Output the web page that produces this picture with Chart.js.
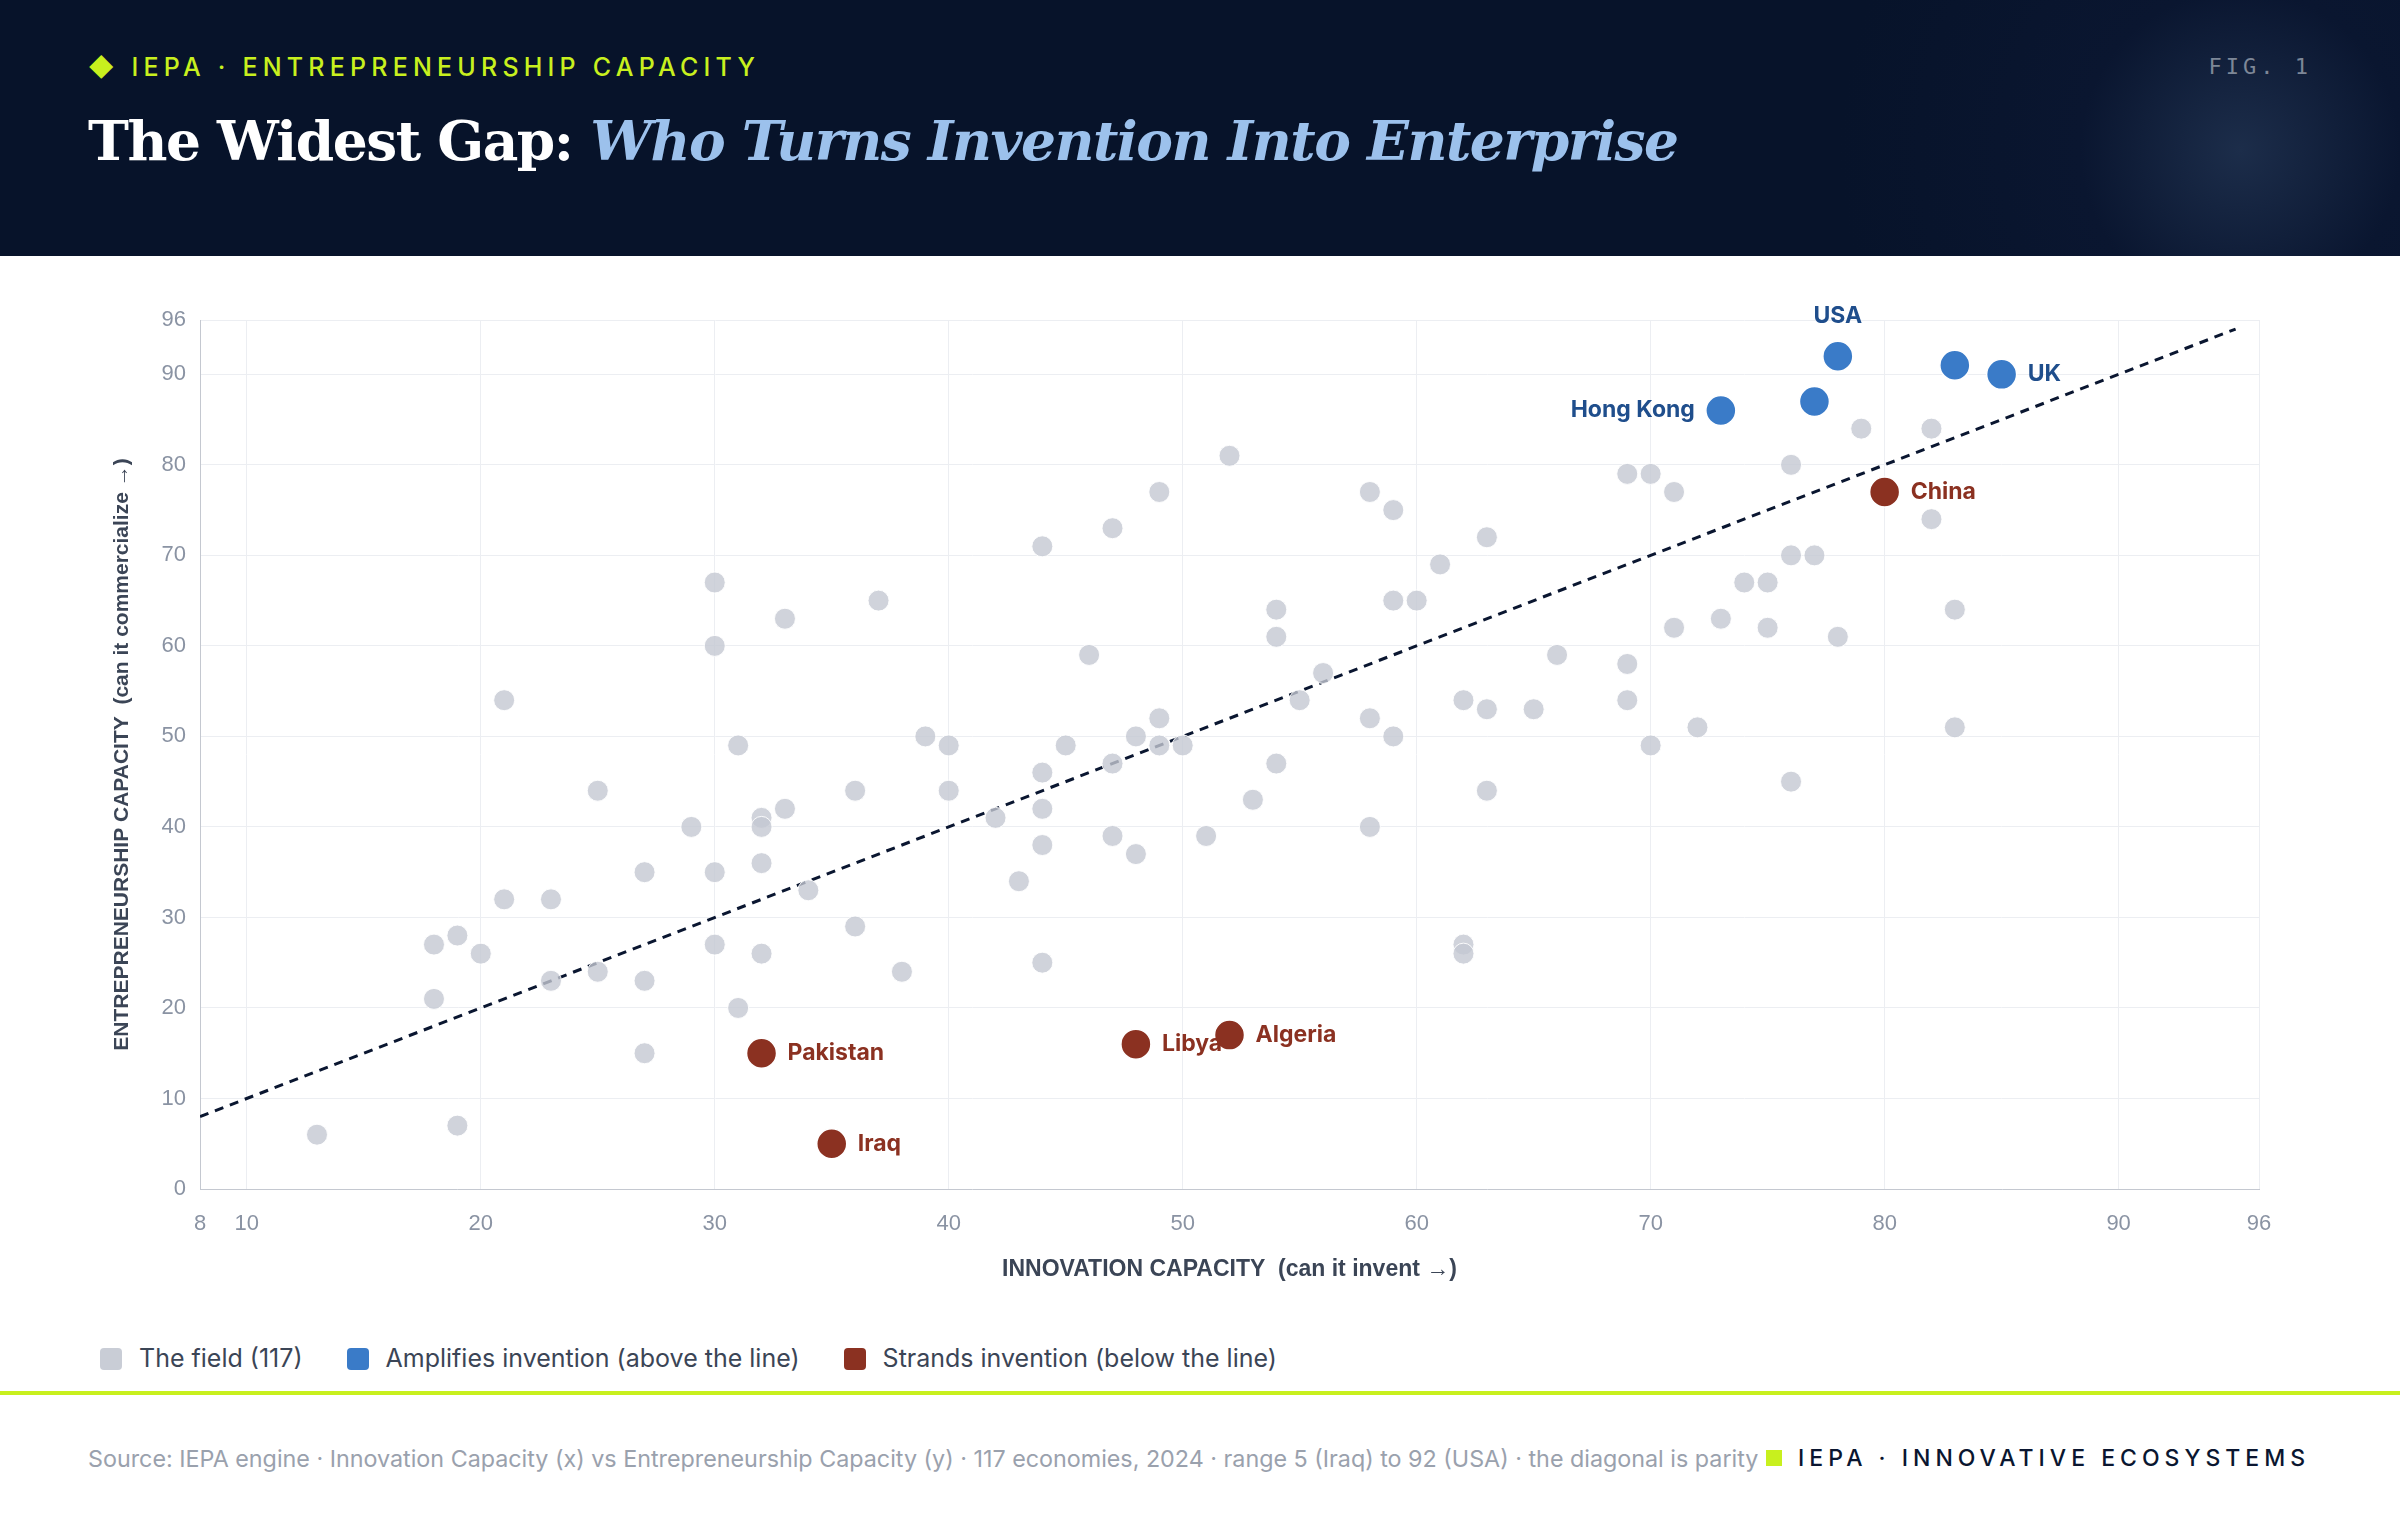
<!DOCTYPE html>
<html><head><meta charset="utf-8">
<script src="https://cdn.jsdelivr.net/npm/chart.js@4"></script>
<style>
  body{margin:0;width:2400px;height:1520px;background:#fff;font-family:Inter,"Noto Sans",sans-serif;overflow:hidden;position:relative}
  .head{position:absolute;left:0;top:0;width:2400px;height:256px;background:radial-gradient(circle at 2240px 150px,#1c2d4a 0,#0a1630 160px,#07132a 400px)}
  .kicker{position:absolute;left:88px;top:52px;color:#c8f01e;font-size:25px;letter-spacing:5.2px;font-weight:500}
  .fig{position:absolute;right:88px;top:54px;color:#7d8797;font-family:"DejaVu Sans Mono",monospace;font-size:22px;letter-spacing:4px}
  h1{position:absolute;left:88px;top:108px;margin:0;font-family:"DejaVu Serif",serif;font-size:55px;color:#fff;font-weight:bold;letter-spacing:-1.5px}
  h1 i{color:#9cc1ec;font-weight:bold}
  canvas{position:absolute;left:0;top:256px}
  .legend{position:absolute;left:100px;top:1343px;font-size:25px;color:#3b4556;display:flex;gap:44px}
  .legend span.sw{display:inline-block;width:22px;height:22px;border-radius:4px;margin-right:17px;vertical-align:-3px}
  .rule{position:absolute;left:0;top:1391px;width:2400px;height:4px;background:#c8f01e}
  .src{position:absolute;left:88px;top:1444px;font-size:23.3px;color:#9aa1ad}
  .brand{position:absolute;right:90px;top:1444px;font-size:23px;color:#0a1630;letter-spacing:5px;font-weight:500}
  .brand b{display:inline-block;width:16px;height:16px;background:#c8f01e;margin-right:16px}
</style></head>
<body>
<div class="head">
  <div class="kicker">◆ IEPA · ENTREPRENEURSHIP CAPACITY</div>
  <div class="fig">FIG. 1</div>
  <h1>The Widest Gap: <i>Who Turns Invention Into Enterprise</i></h1>
</div>
<canvas id="c" width="2400" height="1060" style="width:2400px;height:1060px"></canvas>
<div class="legend">
  <div><span class="sw" style="background:#c9cdd6"></span>The field (117)</div>
  <div><span class="sw" style="background:#3a7bc8"></span>Amplifies invention (above the line)</div>
  <div><span class="sw" style="background:#8b3121"></span>Strands invention (below the line)</div>
</div>
<div class="rule"></div>
<div class="src">Source: IEPA engine · Innovation Capacity (x) vs Entrepreneurship Capacity (y) · 117 economies, 2024 · range 5 (Iraq) to 92 (USA) · the diagonal is parity</div>
<div class="brand"><b></b>IEPA · INNOVATIVE ECOSYSTEMS</div>
<script>
// field economies: [innovation, entrepreneurship]
const fieldX = [13,19,18,19,20,18,21,21,23,23,25,25,27,27,27,29,30,30,30,30,31,31,32,32,32,32,33,33,34,36,36,37,38,39,40,40,42,43,44,44,44,44,44,45,46,47,47,47,48,48,49,49,49,50,51,52,53,54,54,54,55,56,58,58,58,59,59,59,60,61,62,62,62,63,63,63,65,66,69,69,69,70,70,71,71,72,73,74,75,75,76,76,76,77,78,79,82,82,83,83];
const fieldY = [6,7,27,28,26,21,54,32,32,23,24,44,35,23,15,40,67,60,35,27,49,20,41,40,36,26,63,42,33,44,29,65,24,50,49,44,41,34,71,46,42,38,25,49,59,73,47,39,50,37,77,52,49,49,39,81,43,64,61,47,54,57,77,52,40,75,65,50,65,69,54,27,26,72,53,44,53,59,79,58,54,79,49,77,62,51,63,67,67,62,80,70,45,70,61,84,84,74,64,51];

const upNames = ['USA','UK','Hong Kong','',''];
const upX = [78,85,73,77,83];
const upY = [92,90,86,87,91];

const downNames = ['China','Pakistan','Libya','Algeria','Iraq'];
const downX = [80,32,48,52,35];
const downY = [77,15,16,17,5];

const xTicks = [8,10,20,30,40,50,60,70,80,90,96];
const yTicks = [0,10,20,30,40,50,60,70,80,90,96];
const parity = [8,95];

const pts = (xs, ys) => xs.map((x,i) => ({x, y: ys[i]}));

// labels next to the highlighted dots
const labelPlugin = {
  id:'labels',
  afterDatasetsDraw(ch){
    const ctx = ch.ctx;
    ctx.save();
    ctx.font = 'bold 23px Inter, sans-serif';
    ctx.textBaseline = 'middle';
    [[1,upNames,'#1f4e8c'],[2,downNames,'#8b3121']].forEach(([di,names,col]) => {
      ch.getDatasetMeta(di).data.forEach((el,i) => {
        const n = names[i]; if(!n) return;
        ctx.fillStyle = col;
        if(n === 'USA'){ ctx.textAlign='center'; ctx.fillText(n, el.x, el.y-40); }
        else if(n === 'Hong Kong'){ ctx.textAlign='right'; ctx.fillText(n, el.x-26, el.y); }
        else { ctx.textAlign='left'; ctx.fillText(n, el.x+26, el.y); }
      });
    });
    ctx.restore();
  }
};

new Chart(document.getElementById('c'), {
  type:'scatter',
  data:{datasets:[
    {data:pts(fieldX,fieldY), backgroundColor:'rgba(196,200,210,0.8)', borderColor:'rgba(255,255,255,0.9)', borderWidth:1, pointRadius:10.5},
    {data:pts(upX,upY), backgroundColor:'#3a7bc8', borderColor:'#fff', borderWidth:1.5, pointRadius:15},
    {data:pts(downX,downY), backgroundColor:'#8b3121', borderColor:'#fff', borderWidth:1.5, pointRadius:15},
    {type:'line', data:pts(parity,parity), borderColor:'#0a1630', borderWidth:3, borderDash:[9,7], pointRadius:0, fill:false}
  ]},
  options:{
    responsive:false, animation:false,
    layout:{padding:{top:64,right:141,left:106,bottom:29}},
    plugins:{legend:{display:false}, tooltip:{enabled:false}},
    scales:{
      x:{type:'linear', min:8, max:96,
        afterBuildTicks: s => { s.ticks = xTicks.map(v => ({value:v})); },
        afterFit: s => { s.height = 98; },
        ticks:{color:'#8a93a3', font:{size:22}, padding:22},
        grid:{color:'#eceef2', drawTicks:false}, border:{color:'#c4c8d0'},
        title:{display:true, text:'INNOVATION CAPACITY  (can it invent →)', color:'#3b4556', font:{size:23, weight:'bold'}, padding:{top:0}}
      },
      y:{type:'linear', min:0, max:96,
        afterBuildTicks: s => { s.ticks = yTicks.map(v => ({value:v})); },
        afterFit: s => { s.width = 94; },
        ticks:{color:'#8a93a3', font:{size:22}, padding:14},
        grid:{color:'#eceef2', drawTicks:false}, border:{color:'#c4c8d0'},
        title:{display:true, text:'ENTREPRENEURSHIP CAPACITY  (can it commercialize →)', color:'#3b4556', font:{size:21, weight:'bold'}, padding:{bottom:0}}
      }
    }
  },
  plugins:[labelPlugin]
});
</script>
</body></html>
